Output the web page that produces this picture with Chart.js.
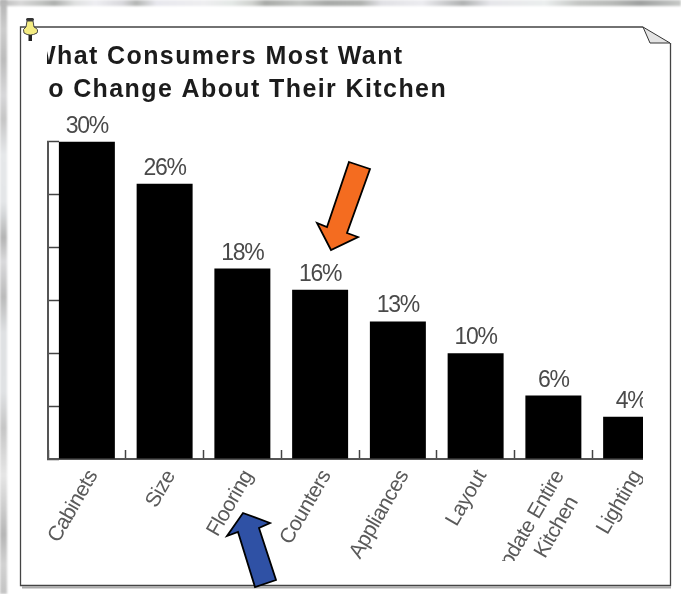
<!DOCTYPE html>
<html><head><meta charset="utf-8">
<script src="https://cdn.jsdelivr.net/npm/chart.js@4"></script>
<style>
html,body{margin:0;padding:0;background:#fff;overflow:hidden}
#stage{position:relative;width:681px;height:594px;overflow:hidden;background:#fff}
#top{position:absolute;left:0;top:0;width:681px;height:6px;filter:blur(.8px);background:linear-gradient(90deg,#b9b9b9 0,#d8d8d8 3%,#c2c4c2 6%,#aeb0ae 8%,#dfe0e0 11%,#eeeef2 14%,#d8d8dc 18%,#b4b6b4 20%,#e8e8ee 23%,#eeeef0 30%,#e4e8e6 34%,#d0d2cf 37%,#a9aba8 39%,#c4c6c4 44%,#a8aaa8 48%,#b0b2b0 53%,#e0e0e4 56%,#ececf0 62%,#b0b2b2 68%,#e6e6ea 72%,#ebeeee 80%,#c4c6c4 85%,#b8bab8 90%,#9fa1a0 94%,#c8cac8 100%)}
#left{position:absolute;left:0;top:0;width:7px;height:594px;filter:blur(.8px);background:linear-gradient(180deg,#b4b4b4 0,#cdcdcd 5%,#bcbcbc 10%,#d8d8da 16%,#c6c6c6 20%,#e6e8ea 26%,#e4e6e8 34%,#d6d8da 36%,#b4b4b4 40%,#dadadc 44%,#bbb 50%,#dfe1e3 56%,#e0e2e4 66%,#c6c6c6 72%,#e6e6e6 80%,#cbcbcb 86%,#b6b6b6 90%,#d2d2d2 95%,#c4c4c4 100%)}
#wrap{position:absolute;left:47px;top:40px;width:596px;height:521px;overflow:hidden}
#cv{position:absolute;left:-15px;top:0;filter:blur(.45px)}
svg{position:absolute;left:0;top:0}
</style></head>
<body><div id="stage">
<div id="top"></div><div id="left"></div>
<svg width="681" height="594" style="z-index:1">
  <path d="M22 587.5H671" fill="none" stroke="#aaa" stroke-width="2"/>
  <path d="M643 27H20.5V585.5H670.5V43" fill="none" stroke="#444" stroke-width="1.3"/>
  <path d="M643 27L670 43L650 43Z" fill="#e4e4e4" stroke="#333" stroke-width="1"/>
</svg>
<div id="wrap" style="z-index:2"><canvas id="cv" width="638" height="521" style="width:638px;height:521px"></canvas></div>
<svg width="681" height="594" style="z-index:3">
  <path d="M243 513L270 523L259 528L276 580L255 587L238 532L227 536Z" fill="#2f51a5" stroke="#000" stroke-width="1.8" stroke-linejoin="miter"/>
  <path d="M349 162L370 169L347 233L358 237L331 250L317 223L327 227Z" fill="#f46c20" stroke="#000" stroke-width="1.8" stroke-linejoin="miter"/>
  <g filter="blur(.3px)">
    <rect x="26" y="18" width="8" height="3" rx="1.5" fill="#333"/>
    <path d="M27 21H33L34 27Q39 29 37 33Q30 37 24 33Q22 29 26 27Z" fill="#f4ec82" stroke="#444" stroke-width="1"/>
    <rect x="28.5" y="35" width="3.5" height="6" fill="#222"/>
  </g>
</svg>
</div>
<script>
const titleLines = ["What Consumers Most Want", "to Change About Their Kitchen"];
const categories = ["Cabinets","Size","Flooring","Counters","Appliances","Layout",["Update Entire","Kitchen"],"Lighting"];
const values = [30,26,18,16,13,10,6,4];
const yMax = 30;
const yStep = 5;

const barLabels = {
  id:'barLabels',
  afterLayout(chart){
    const tb = chart.titleBlock;
    if(tb && !tb._wrapped){
      const d = tb.draw;
      tb.draw = function(){
        const ctx = this.ctx;
        ctx.letterSpacing = '1.4px';
        d.apply(this, arguments);
        ctx.letterSpacing = '-0.5px';
      };
      tb._wrapped = true;
    }
  },
  beforeDraw(chart){ chart.ctx.letterSpacing = '-0.5px'; },
  afterDatasetsDraw(chart){
    const ctx = chart.ctx;
    const meta = chart.getDatasetMeta(0);
    ctx.save();
    ctx.font = '23px "Liberation Sans"';
    ctx.letterSpacing = '-1.2px';
    ctx.fillStyle = '#4a4a4a';
    ctx.textAlign = 'center';
    ctx.textBaseline = 'alphabetic';
    meta.data.forEach((bar,i)=>{ ctx.fillText(values[i]+'%', bar.x, bar.y-9); });
    ctx.restore();
  }
};

new Chart(document.getElementById('cv'),{
  type:'bar',
  data:{labels:categories,datasets:[{data:values,backgroundColor:'#000',borderWidth:0,categoryPercentage:1,barPercentage:0.72}]},
  plugins:[barLabels],
  options:{
    responsive:false,animation:false,devicePixelRatio:1,
    layout:{padding:0},
    plugins:{
      legend:{display:false},tooltip:{enabled:false},
      title:{display:true,text:[titleLines[0],'\u2009'+titleLines[1]],align:'start',color:'#1c1c1c',
        font:{family:'"Liberation Sans"',size:25,weight:'bold',lineHeight:1.33},
        padding:{top:0,bottom:35}}
    },
    scales:{
      x:{
        afterFit(s){s.height=102;s.paddingLeft=0;s.paddingRight=0;},
        border:{color:'#555',width:2},
        grid:{display:true,drawOnChartArea:false,drawTicks:true,tickLength:-9,tickColor:'#444',tickWidth:1.5,offset:true},
        ticks:{color:'#5a5a5a',font:{family:'"Liberation Sans"',size:21},minRotation:60,maxRotation:60,padding:16,labelOffset:6,autoSkip:false,
          callback(v,i){const l=categories[i];return Array.isArray(l)?[l[0],l[1]+'\u00a0'.repeat(3)]:l;}}
      },
      y:{
        min:0,max:yMax,
        afterFit(s){s.width=16;s.paddingTop=0;s.paddingBottom=0;},
        border:{color:'#555',width:2},
        grid:{display:true,drawOnChartArea:false,drawTicks:true,tickLength:-11,tickColor:'#444',tickWidth:1.5},
        ticks:{display:false,stepSize:yStep}
      }
    }
  }
});
</script>
</body></html>
